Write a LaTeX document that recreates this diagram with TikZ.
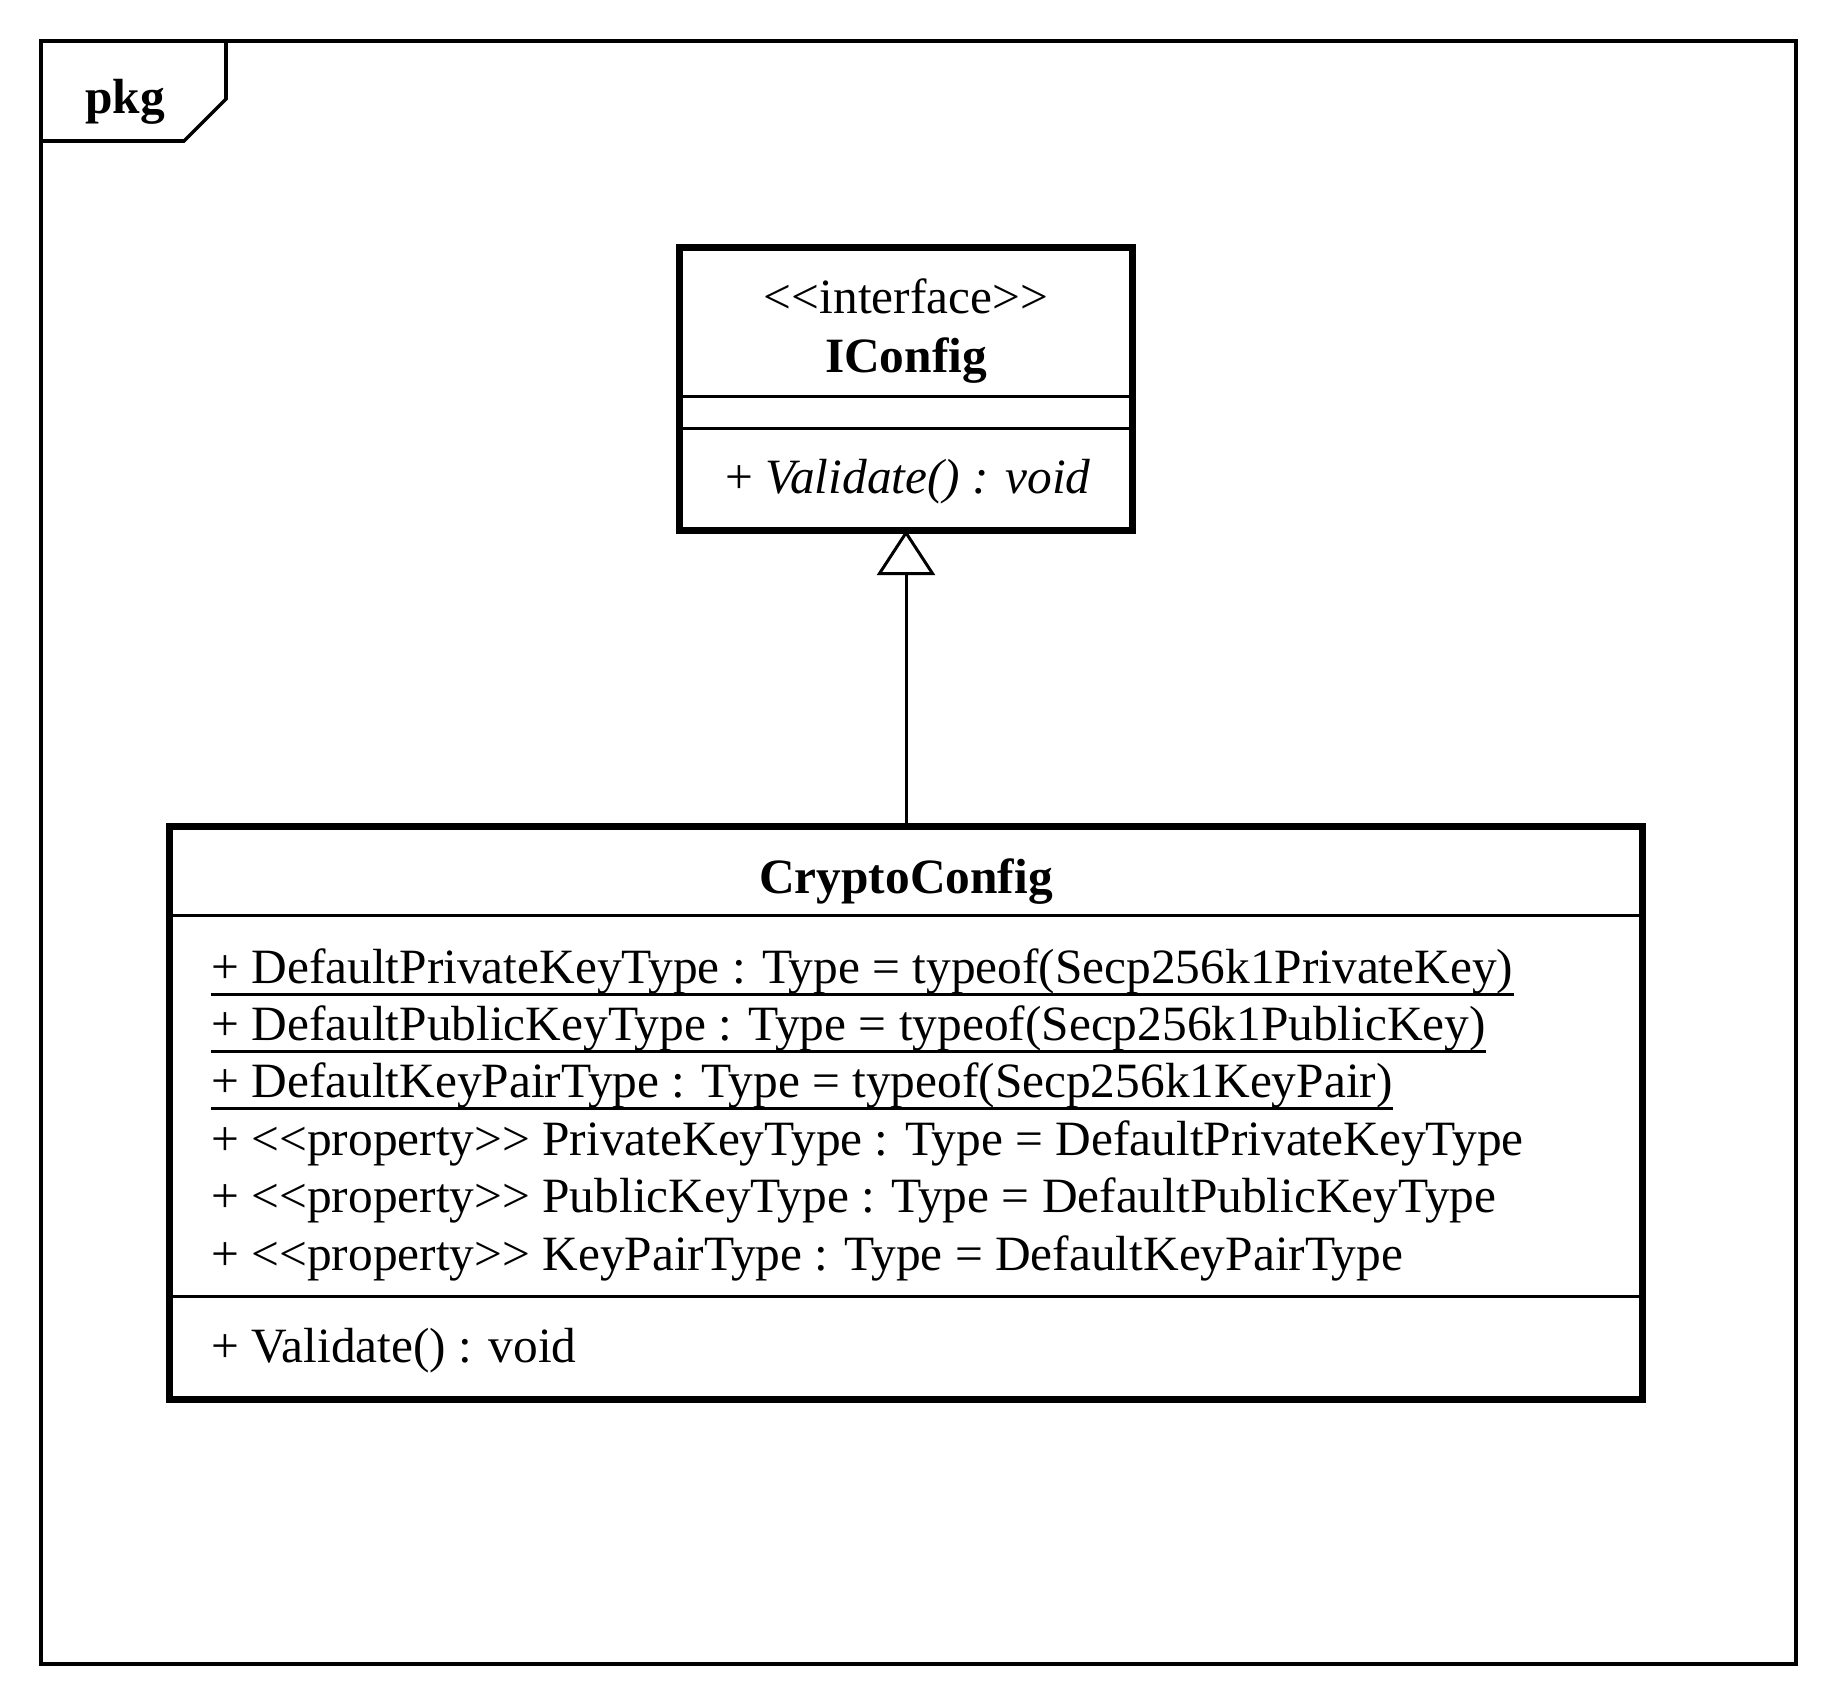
\documentclass[tikz,border=0pt]{standalone}
\usepackage{fontspec}
\setmainfont{Liberation Serif}
\usetikzlibrary{arrows.meta,positioning}
\tikzstyle{classbox}=[draw, line width=4pt, inner sep=0pt]
\tikzstyle{divider}=[draw, line width=1.7pt]
\tikzstyle{member}=[inner sep=0pt, anchor=base west]
\tikzstyle{title}=[inner sep=0pt, anchor=base]
\tikzstyle{line}=[draw, line width=1.7pt, shorten >=-2.5pt,
  -{Triangle[open, fill=white, length=0.9cm, width=1.16cm]}]
\newcommand{\attr}[3]{node (#1) [member] at (211,#2) {#3}}
\newcommand{\uline}[1]{\draw[line width=1.7pt] ([yshift=-0.22cm]#1.base west) -- ([yshift=-0.22cm]#1.base east);}

\begin{document}
\begin{tikzpicture}[x=0.02cm, y=-0.02cm, font=\fontsize{28.1pt}{33pt}\selectfont]
\useasboundingbox (0,0) rectangle (1837,1708);
% Draw package frame
\draw[line width=2pt] (41,41) rectangle (1796,1664);
\draw[line width=2pt] (41,141) -- (184,141) -- (226,99) -- (226,41);
\node (pkg) [member] at (85,113) {\textbf{pkg}};

% Draw interface
\node (iface) [classbox, minimum width=9.06cm, minimum height=5.68cm] at (906,389) {};
\node (stereo) [title] at (906,313) {<{}<interface>{}>};
\node (iname) [title] at (906,372) {\textbf{IConfig}};
\path (iface.north west) ++(0,153) coordinate (i1);
\path (iface.north west) ++(0,185) coordinate (i2);
\draw[divider] (i1) -- (i1 -| iface.east);
\draw[divider] (i2) -- (i2 -| iface.east);
\node (iop) [member] at (725,493) {+ \textit{Validate() : void}};

% Draw class
\node (crypto) [classbox, minimum width=29.48cm, minimum height=11.47cm] at (906,1113) {};
\node (cname) [title] at (906,893) {\textbf{CryptoConfig}};
\path (crypto.north west) ++(0,93) coordinate (c1);
\path (crypto.north west) ++(0,474) coordinate (c2);
\draw[divider] (c1) -- (c1 -| crypto.east);
\draw[divider] (c2) -- (c2 -| crypto.east);
\path \attr{a1}{983}{+ DefaultPrivateKeyType : Type = typeof(Secp256k1PrivateKey)};
\path \attr{a2}{1040.4}{+ DefaultPublicKeyType : Type = typeof(Secp256k1PublicKey)};
\path \attr{a3}{1097.8}{+ DefaultKeyPairType : Type = typeof(Secp256k1KeyPair)};
\path \attr{a4}{1155.2}{+ <{}<property>{}> PrivateKeyType : Type = DefaultPrivateKeyType};
\path \attr{a5}{1212.6}{+ <{}<property>{}> PublicKeyType : Type = DefaultPublicKeyType};
\path \attr{a6}{1270}{+ <{}<property>{}> KeyPairType : Type = DefaultKeyPairType};
\uline{a1}
\uline{a2}
\uline{a3}
\node (cop) [member] at (211,1362) {+ Validate() : void};

% Draw generalization
\path [line] (crypto.north) -- (iface.south);
\end{tikzpicture}
\end{document}
